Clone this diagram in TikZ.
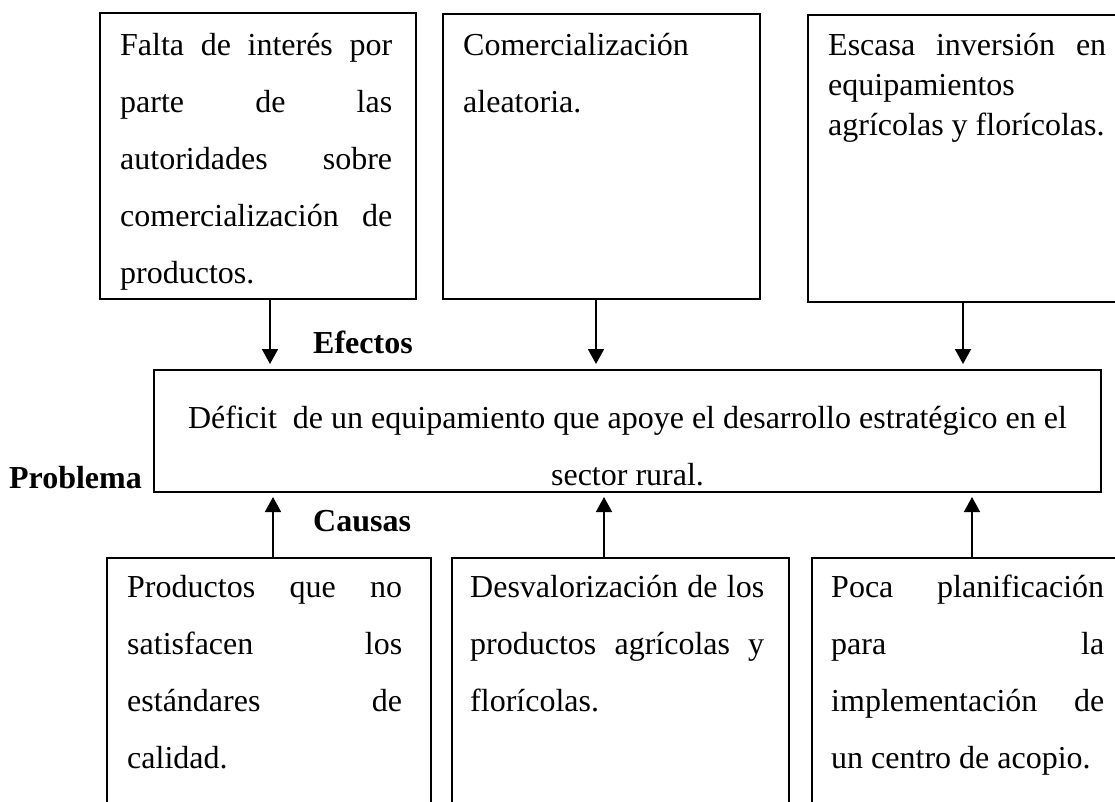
\documentclass[tikz,border=0pt]{standalone}
\usepackage{fontspec}
\setmainfont{Liberation Serif}
\usetikzlibrary{positioning,calc,arrows.meta}
\tikzset{frame/.style={draw, line width=1.8pt, inner sep=0pt, outer sep=0pt, anchor=north west}}
\tikzset{txt/.style={inner sep=0pt, align=justify, font={\fontsize{32}{57}\selectfont},
	execute at begin node={\tolerance=10000\hbadness=10000\hyphenpenalty=10000}}}
\tikzset{txtS/.style={txt, font={\fontsize{32}{40}\selectfont}}}
\tikzset{lbl/.style={inner sep=0pt, font={\fontsize{32}{38}\selectfont\bfseries}}}
\tikzset{arr/.style={draw, line width=1.8pt, -{Triangle[width=16pt,length=15pt]}}}

\begin{document}
\begin{tikzpicture}[x=1pt, y=-1pt]
			\useasboundingbox (0,0) rectangle (1115,801);
			\clip (0,0) rectangle (1115,801);
			% efectos
			\node[frame, minimum width=316pt, minimum height=286pt] (efe1) at (100,13) {};
			\node[frame, minimum width=317pt, minimum height=285pt] (efe2) at (443,14) {};
			\node[frame, minimum width=330pt, minimum height=287pt] (efe3) at (808,15) {};
			\node[txt, text width=272pt, below right=20pt and 20pt of efe1.north west] (efe1t)
				{Falta de interés por\linebreak parte de las\linebreak autoridades sobre\linebreak
				 comercialización de\linebreak productos.};
			\node[txt, text width=277pt, below right=19pt and 20pt of efe2.north west] (efe2t)
				{Comercialización\newline aleatoria.};
			\node[txtS, text width=278pt, below right=18pt and 20pt of efe3.north west] (efe3t)
				{Escasa inversión en\linebreak equipamientos\newline agrícolas y florícolas.};
			%
			% problema
			\node[frame, minimum width=947pt, minimum height=122pt] (prob) at (154,370) {};
			\node[inner sep=0pt, align=center, font={\fontsize{32}{57}\selectfont},
				below=36pt of prob.north] (probt)
				{Déficit\ \ de un equipamiento que apoye el desarrollo estratégico en el\\sector rural.};
			%
			% causas
			\node[frame, minimum width=324pt, minimum height=262pt] (cau1) at (107,558) {};
			\node[frame, minimum width=337pt, minimum height=262pt] (cau2) at (452,558) {};
			\node[frame, minimum width=330pt, minimum height=262pt] (cau3) at (812,558) {};
			\node[txt, text width=275pt, below right=17pt and 20pt of cau1.north west] (cau1t)
				{Productos que no\linebreak satisfacen los\linebreak estándares de\linebreak calidad.};
			\node[txt, text width=294pt, below right=17pt and 18pt of cau2.north west] (cau2t)
				{Desvalorización de los\linebreak productos agrícolas y\linebreak florícolas.};
			\node[txt, text width=273pt, below right=17pt and 19pt of cau3.north west] (cau3t)
				{Poca planificación\linebreak para la\linebreak implementación de\linebreak un centro de acopio.};
			%
			% etiquetas
			\node[lbl, anchor=base west] (lblefe) at (313,353) {Efectos};
			\node[lbl, anchor=base west] (lblcau) at (313,531) {Causas};
			\node[lbl, anchor=base east] (lblprob) at (142,488) {Problema};
			%
			% flechas
			\coordinate (a1) at (270,0);
			\coordinate (a2) at (596,0);
			\coordinate (a3) at (963,0);
			\coordinate (b1) at (273,0);
			\coordinate (b2) at (604,0);
			\coordinate (b3) at (972,0);
			\draw[arr, shorten >=6pt] (efe1.south -| a1) -- (prob.north -| a1);
			\draw[arr, shorten >=6pt] (efe2.south -| a2) -- (prob.north -| a2);
			\draw[arr, shorten >=6pt] (efe3.south -| a3) -- (prob.north -| a3);
			\draw[arr, shorten >=5pt] (cau1.north -| b1) -- (prob.south -| b1);
			\draw[arr, shorten >=5pt] (cau2.north -| b2) -- (prob.south -| b2);
			\draw[arr, shorten >=5pt] (cau3.north -| b3) -- (prob.south -| b3);
		\end{tikzpicture}
\end{document}
